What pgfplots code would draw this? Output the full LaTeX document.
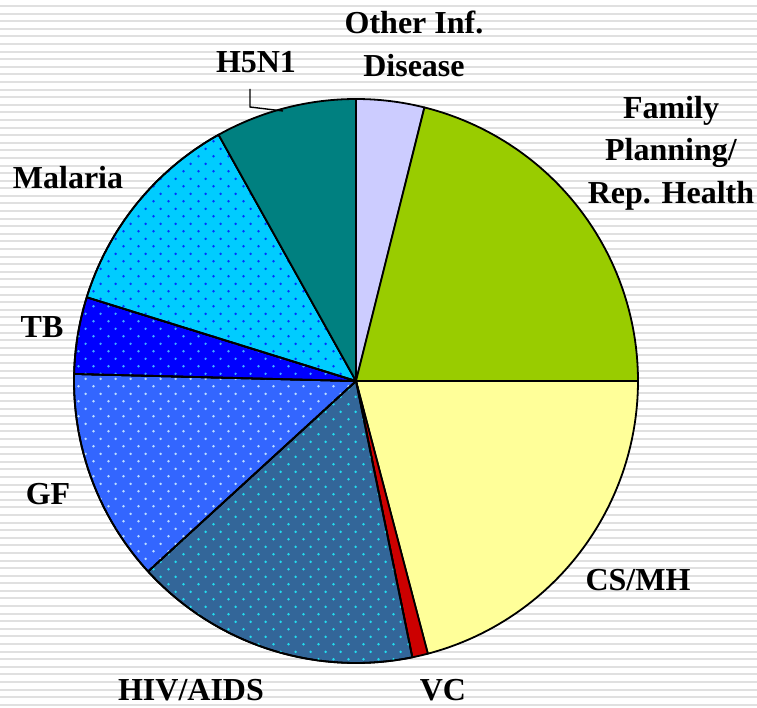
\documentclass[border=0pt]{standalone}
\usepackage{pgfplots}
\pgfplotsset{compat=1.18}
\usepackage{pgfplotstable}
\usetikzlibrary{patterns,patterns.meta}
\usepackage{fontspec}
\setmainfont{Liberation Serif}

\definecolor{cOther}{HTML}{CCCCFF}
\definecolor{cFP}{HTML}{99CC00}
\definecolor{cCS}{HTML}{FFFF99}
\definecolor{cVC}{HTML}{CC0000}
\definecolor{cHIV}{HTML}{336699}
\definecolor{cHIVd}{HTML}{22DDEE}
\definecolor{cGF}{HTML}{3366FF}
\definecolor{cGFd}{HTML}{BBDDFF}
\definecolor{cTB}{HTML}{0000FF}
\definecolor{cTBd}{HTML}{44AAFF}
\definecolor{cMal}{HTML}{00CCFF}
\definecolor{cMald}{HTML}{0033FF}
\definecolor{cH5}{HTML}{008080}
\definecolor{stripe}{HTML}{E0E0E0}

\tikzdeclarepattern{
  name=piedots,
  type=uncolored,
  bounding box={(0pt,0pt) and (7.5pt,7.7pt)},
  tile size={(7.5pt,7.7pt)},
  code={
    \pgfpathcircle{\pgfpoint{1.875pt}{1.925pt}}{0.7pt}
    \pgfpathcircle{\pgfpoint{5.625pt}{5.775pt}}{0.7pt}
    \pgfusepath{fill}
  }
}

\pgfplotsset{
  slicebase/.style={draw=black, line width=0.9pt, line join=round},
  slice0/.style={slicebase, fill=cOther},
  slice1/.style={slicebase, fill=cFP},
  slice2/.style={slicebase, fill=cCS},
  slice3/.style={slicebase, fill=cVC},
  slice4/.style={slicebase, fill=cHIV, postaction={pattern=piedots, pattern color=cHIVd}},
  slice5/.style={slicebase, fill=cGF, postaction={pattern=piedots, pattern color=cGFd}},
  slice6/.style={slicebase, fill=cTB, postaction={pattern=piedots, pattern color=cTBd}},
  slice7/.style={slicebase, fill=cMal, postaction={pattern=piedots, pattern color=cMald}},
  slice8/.style={slicebase, fill=cH5},
}

% shares in percent, clockwise from 12 o'clock
\pgfplotstableread{
label value
Other 3.9
FP 21.1
CSMH 20.9
VC 0.9
HIV 16.4
GF 12.2
TB 4.4
Malaria 12.1
H5N1 8.1
}\piedata

\begin{document}
\begin{tikzpicture}
\begin{axis}[
  width=378.5pt, height=354pt, scale only axis,
  xmin=0, xmax=757, ymin=0, ymax=708,
  axis line style={draw=none},
  xtick=\empty,
  ytick={3.17,10.766,...,703},
  yticklabel=\empty,
  major tick length=0pt,
  ymajorgrids,
  grid style={stripe, line width=1pt},
  clip=false,
]
\def\cum{0}
\pgfplotsforeachungrouped \i in {0,...,8}{%
  \pgfplotstablegetelem{\i}{value}\of\piedata
  \pgfmathsetmacro{\sa}{90-3.6*\cum}%
  \pgfmathsetmacro{\cum}{\cum+\pgfplotsretval}%
  \pgfmathsetmacro{\sb}{90-3.6*\cum}%
  \edef\temp{\noexpand\addplot[slice\i, domain=\sb:\sa, samples=120]
    ({356+282*cos(x)},{327+282*sin(x)}) -- (axis cs:356,327) -- cycle;}%
  \temp
}
\draw[black, line width=0.7pt] (axis cs:250,619) -- (axis cs:250,601) -- (axis cs:283,597);
\begin{scope}[every node/.style={font=\bfseries\fontsize{16}{21.5}\selectfont, align=center, inner sep=0pt}]
\node at (axis cs:414,664) {Other Inf.\\Disease};
\node at (axis cs:256,646) {H5N1};
\node[font=\bfseries\fontsize{16}{21.3}\selectfont] at (axis cs:671,555) {Family\\Planning/\\Rep. Health};
\node at (axis cs:68,530) {Malaria};
\node at (axis cs:42,381) {TB};
\node at (axis cs:48,214) {GF};
\node at (axis cs:191,18) {HIV/AIDS};
\node at (axis cs:443,18) {VC};
\node at (axis cs:638,128) {CS/MH};
\end{scope}
\end{axis}
\pgfresetboundingbox
\useasboundingbox (current axis.south west) rectangle (current axis.north east);
\end{tikzpicture}
\end{document}
